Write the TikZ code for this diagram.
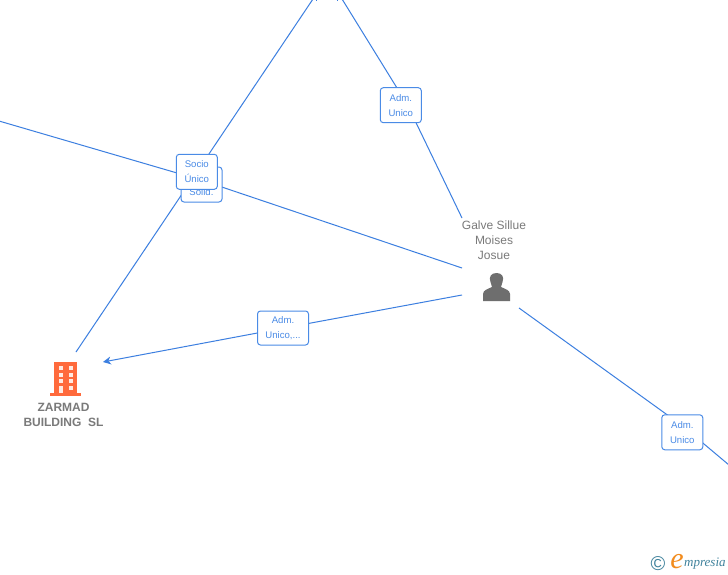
\documentclass[tikz,border=0pt]{standalone}
\usepackage{fontspec}
\setmainfont{Liberation Sans}
\newfontfamily\logofont{Liberation Serif}
\usepackage{xcolor}
\usepackage{tikz}
\usetikzlibrary{arrows.meta}
\definecolor{linkblue}{HTML}{3C7FE0}
\definecolor{boxblue}{HTML}{4A8BE6}
\definecolor{namegray}{HTML}{7A7A7A}
\definecolor{iconorange}{HTML}{FF6A3C}
\definecolor{icongray}{HTML}{6E6E6E}
\definecolor{logoblue}{HTML}{3F829C}
\definecolor{logoorange}{HTML}{F28C1E}
\tikzset{
  link/.style = {draw=linkblue, line width=1pt},
  role/.style = {draw=boxblue, fill=white, rounded corners=3pt, line width=1pt, align=center,
    text=boxblue, font=\fontsize{9.6}{15}\selectfont, inner sep=0pt},
  owner/.style = {text=namegray, align=center, inner sep=0pt, font=\fontsize{12}{15}\selectfont},
}

\begin{document}
\begin{tikzpicture}[x=1pt, y=-1pt]
    \useasboundingbox (0,0) rectangle (728,575);
    \fill[white] (0,0) rectangle (728,575);

    \coordinate (topl) at (313,-1);
    \coordinate (topr) at (342,-1);
    \coordinate (left) at (-1,121);
    \coordinate (right) at (729,465);
    \coordinate (zarmadtop) at (76,352);
    \coordinate (zarmadin) at (103,362);
    \coordinate (galvenw) at (462,218);
    \coordinate (galvew) at (462,268);
    \coordinate (galvesw) at (462,295);
    \coordinate (galvese) at (519,308);
    \coordinate (bendsolid) at (201,180);
    \coordinate (bendunico) at (407.5,105);
    \coordinate (bendarrow) at (284,328);
    \coordinate (bendlow) at (682,425.5);

    \draw[link] (topl) -- (zarmadtop);
    \draw[link] (left) -- (bendsolid) -- (galvew);
    \draw[link] (topr) -- (bendunico) -- (galvenw);
    \draw[link] (galvese) -- (bendlow) -- (right);
    \draw[link, -{Stealth[length=8pt, width=8pt]}] (galvesw) -- (bendarrow) -- (zarmadin);
    \draw[link] (316.5,0) -- (316.5,1.5);
    \draw[link] (337.5,0) -- (337.5,1.5);

    \node[role, minimum width=41pt, minimum height=35pt] (solid) at (201.5,184.5) {\phantom{Adm.}\\Solid.};
    \node[role, minimum width=41pt, minimum height=35pt] (socio) at (196.8,171.8) {Socio\\Único};
    \node[role, minimum width=41pt, minimum height=35pt] (admtop) at (400.8,105.2) {Adm.\\Unico};
    \node[role, minimum width=51pt, minimum height=34pt] (admmid) at (283,328) {Adm.\hspace{3pt}\\Unico,...};
    \node[role, minimum width=41pt, minimum height=35pt] (admlow) at (682.3,432.3) {Adm.\hspace{2pt}\\Unico};

    \node[owner] (galve) at (494,240) {Galve Sillue\\Moises\\Josue};
    \node[owner, font=\fontsize{12}{15}\selectfont\bfseries] (zarmad) at (63.5,415) {ZARMAD\\BUILDING\ \ SL};

    % person
    \fill[icongray] (483,301) -- (483,294) .. controls (483,290) and (488,289) .. (492,287)
      .. controls (492,285) and (491,284) .. (490.5,282) .. controls (488.5,277) and (491,273) .. (496.5,273)
      .. controls (502,273) and (504.5,277) .. (502.5,282) .. controls (502,284) and (501,285) .. (501,287)
      .. controls (505,289) and (510,290) .. (510,294) -- (510,301) -- cycle;

    % building
    \fill[iconorange] (54,362) rectangle (77,393);
    \fill[iconorange] (50,393) rectangle (81,395.5);
    \foreach \y in {366,372.5,379} {
      \fill[white!85!iconorange] (58.5,\y) rectangle (62.5,\y+4);
      \fill[white!85!iconorange] (68.5,\y) rectangle (72.5,\y+4);
    }
    \fill[white!85!iconorange] (58.5,385.5) rectangle (62.5,393);
    \fill[white!85!iconorange] (68.5,385.5) rectangle (72.5,389.5);

    % logo
    \node[text=logoblue, inner sep=0pt, font=\fontsize{20}{20}\selectfont] (copyr) at (658,564) {©};
    \node[text=logoorange, inner sep=0pt, font=\logofont\fontsize{30}{30}\selectfont\itshape] (logoe) at (677,562) {e};
    \node[text=logoblue, inner sep=0pt, anchor=west, font=\logofont\fontsize{13}{13}\selectfont\itshape] (logotext) at (684,564) {mpresia};
\end{tikzpicture}
\end{document}
